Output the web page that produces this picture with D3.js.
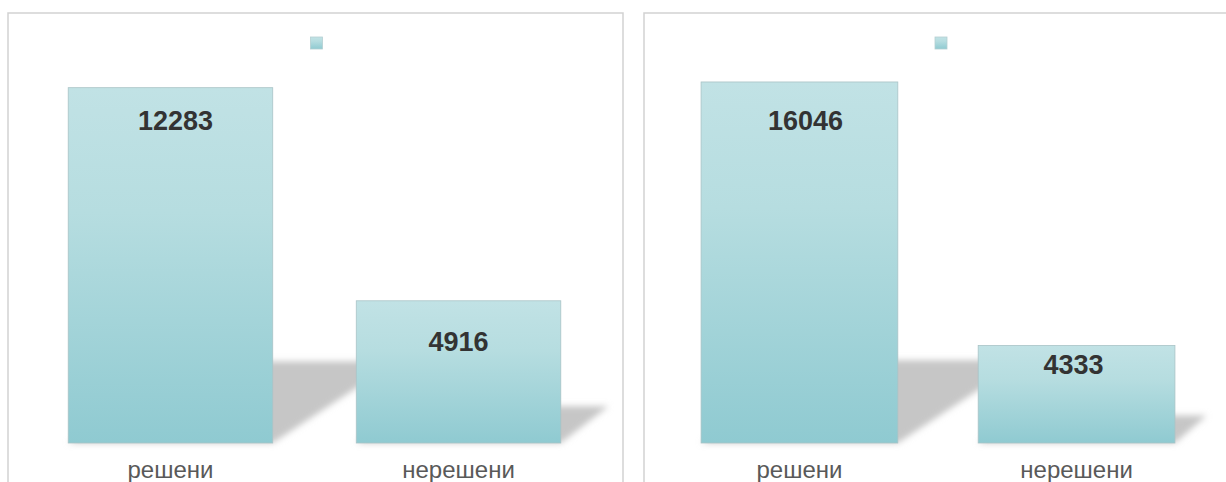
<!DOCTYPE html>
<html>
<head>
<meta charset="utf-8">
<script src="https://cdn.jsdelivr.net/npm/d3@7"></script>
<style>
  html, body { margin: 0; padding: 0; background: #fff; }
  svg { display: block; }
</style>
</head>
<body>
<div id="chart"></div>
<script>
// data
const categories = ["решени", "нерешени"];
const valuesLeft = [12283, 4916];
const valuesRight = [16046, 4333];
const yMaxLeft = 14000;
const yMaxRight = 18000;

const W = 1226, H = 482;
const svg = d3.select("#chart").append("svg").attr("width", W).attr("height", H);

// gradients + blur
const defs = svg.append("defs");
const grad = defs.append("linearGradient")
  .attr("id", "barGrad").attr("x1", 0).attr("y1", 0).attr("x2", 0).attr("y2", 1);
grad.append("stop").attr("offset", "0%").attr("stop-color", "#c1e2e5");
grad.append("stop").attr("offset", "35%").attr("stop-color", "#b6dde0");
grad.append("stop").attr("offset", "100%").attr("stop-color", "#8fcad1");
defs.append("filter").attr("id", "blur")
  .attr("x", "-20%").attr("y", "-20%").attr("width", "140%").attr("height", "140%")
  .append("feGaussianBlur").attr("stdDeviation", 3);

// panel settings
const panels = [
  { values: valuesLeft, yMax: yMaxLeft, box: [8, 13, 615], xRange: [25, 604], labelDy: [42, 50], labelDx: [5, 0] },
  { values: valuesRight, yMax: yMaxRight, box: [644, 13, 592], xRange: [659.5, 1216.5], labelDy: [48, 28], labelDx: [6, -3] }
];

const plotBottom = 443, plotTop = 38;

panels.forEach(function (p) {
  const g = svg.append("g");
  const [bx, by, bw] = p.box;

  g.append("rect")
    .attr("x", bx).attr("y", by).attr("width", bw).attr("height", H)
    .attr("fill", "#fff").attr("stroke", "#d2d2d2").attr("stroke-width", 1.5);

  const x = d3.scaleBand().domain(categories).range(p.xRange)
    .paddingInner(0.29).paddingOuter(0.15);
  const y = d3.scaleLinear().domain([0, p.yMax]).range([plotBottom, plotTop]);

  const data = categories.map((c, i) => ({
    cat: c, value: p.values[i], dy: p.labelDy[i], dx: p.labelDx[i]
  }));

  // shadows (perspective, to the upper right)
  g.append("g").attr("filter", "url(#blur)")
    .selectAll("path")
    .data(data)
    .join("path")
    .attr("fill", "#c6c6c6")
    .attr("d", function (d) {
      const h = y(0) - y(d.value);
      const t = 0.21 * h + 7;
      const s = 1.7 * t - 15;
      const x0 = x(d.cat), x1 = x0 + x.bandwidth();
      return "M" + x0 + "," + y(0) + "L" + x1 + "," + y(0) +
        "L" + (x1 + s) + "," + (y(0) - t) + "L" + (x0 + s) + "," + (y(0) - t) + "Z";
    });

  // bars
  g.append("g")
    .selectAll("rect")
    .data(data)
    .join("rect")
    .attr("x", d => x(d.cat))
    .attr("y", d => y(d.value))
    .attr("width", x.bandwidth())
    .attr("height", d => y(0) - y(d.value))
    .attr("fill", "url(#barGrad)")
    .attr("stroke", "#a9c3c6")
    .attr("stroke-width", 0.8);

  // value labels
  g.append("g")
    .selectAll("text")
    .data(data)
    .join("text")
    .attr("x", d => x(d.cat) + x.bandwidth() / 2 + d.dx)
    .attr("y", d => y(d.value) + d.dy)
    .attr("text-anchor", "middle")
    .attr("font-family", "'Liberation Sans', Arial, sans-serif")
    .attr("font-weight", "bold")
    .attr("font-size", 27)
    .attr("fill", "#333333")
    .text(d => d.value);

  // category axis labels
  const xAxis = d3.axisBottom(x).tickSize(0).tickPadding(0);
  const ax = g.append("g").attr("transform", "translate(0," + plotBottom + ")").call(xAxis);
  ax.select(".domain").remove();
  ax.selectAll("text")
    .attr("dy", null)
    .attr("y", 35)
    .attr("font-family", "'Liberation Sans', Arial, sans-serif")
    .attr("font-size", 24)
    .attr("fill", "#595959");

  // legend marker (no text)
  const cx = bx + bw / 2;
  g.append("rect")
    .attr("x", cx - 5).attr("y", 37).attr("width", 12).attr("height", 12)
    .attr("fill", "url(#barGrad)").attr("stroke", "#b5cfd2").attr("stroke-width", 0.8);
});
</script>
</body>
</html>
